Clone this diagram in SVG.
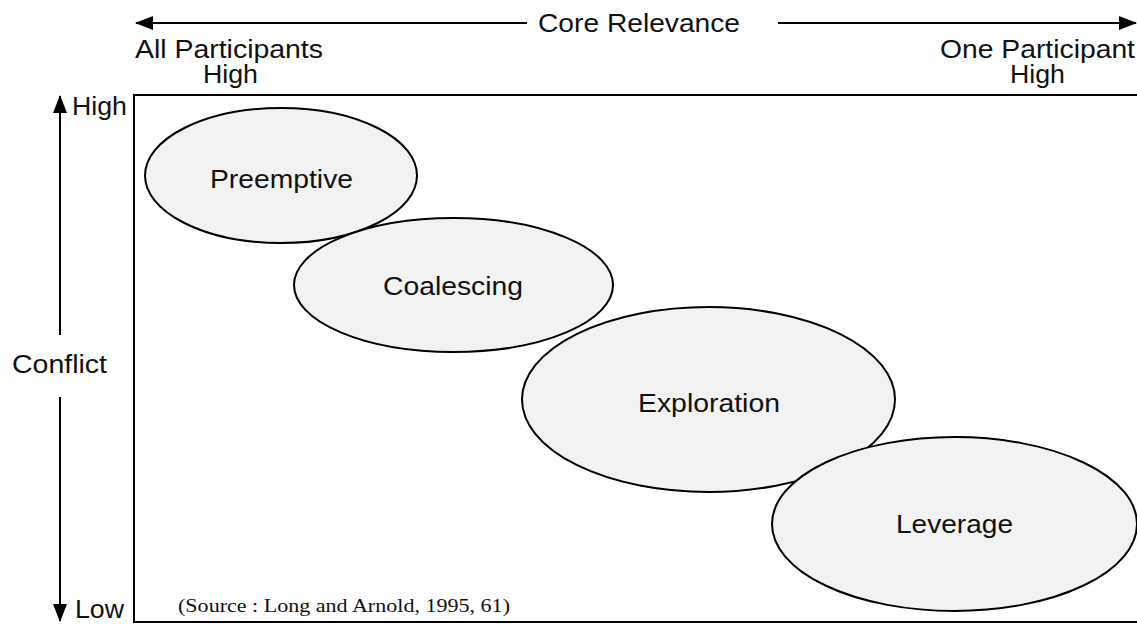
<svg xmlns="http://www.w3.org/2000/svg" width="1137" height="624" viewBox="0 0 1137 624">
<defs>
<marker id="ah" viewBox="0 0 18 14" refX="17" refY="7" markerWidth="18" markerHeight="14" markerUnits="userSpaceOnUse" orient="auto-start-reverse">
<path d="M0,0 L18,7 L0,14 z" fill="#000"/>
</marker>
</defs>
<style>
.t{font-family:"Liberation Sans",Arial,sans-serif;font-size:25px;fill:#111;}
.s{font-family:"Liberation Serif","Times New Roman",serif;font-size:18px;fill:#111;}
.n{fill:#f2f2f2;stroke:#000;stroke-width:2;}
.ax{stroke:#000;stroke-width:2;fill:none;}
</style>
<rect width="1137" height="624" fill="#fff"/>
<g id="axes">
<line class="ax" x1="527" y1="23" x2="136" y2="23" marker-end="url(#ah)"/>
<line class="ax" x1="778" y1="23" x2="1136" y2="23" marker-end="url(#ah)"/>
<line class="ax" x1="60" y1="335" x2="60" y2="96" marker-end="url(#ah)"/>
<line class="ax" x1="60" y1="397" x2="60" y2="621" marker-end="url(#ah)"/>
</g>
<g id="frame">
<path class="ax" d="M1139,95 L134,95 L134,622 L1139,622"/>
</g>
<g id="labels">
<text class="t" x="538" y="32" textLength="202" lengthAdjust="spacingAndGlyphs">Core Relevance</text>
<text class="t" x="135" y="58" textLength="188" lengthAdjust="spacingAndGlyphs">All Participants</text>
<text class="t" x="203" y="83" textLength="55" lengthAdjust="spacingAndGlyphs">High</text>
<text class="t" x="940" y="58" textLength="195" lengthAdjust="spacingAndGlyphs">One Participant</text>
<text class="t" x="1010" y="83" textLength="55" lengthAdjust="spacingAndGlyphs">High</text>
<text class="t" x="72" y="115" textLength="55" lengthAdjust="spacingAndGlyphs">High</text>
<text class="t" x="12" y="373" textLength="95" lengthAdjust="spacingAndGlyphs">Conflict</text>
<text class="t" x="75" y="618" textLength="49" lengthAdjust="spacingAndGlyphs">Low</text>
<text class="s" x="178" y="612" textLength="332" lengthAdjust="spacingAndGlyphs">(Source : Long and Arnold, 1995, 61)</text>
</g>
<g id="preemptive">
<ellipse class="n" cx="281" cy="175.5" rx="136" ry="67.5"/>
<text class="t" x="210" y="188" textLength="143" lengthAdjust="spacingAndGlyphs">Preemptive</text>
</g>
<g id="coalescing">
<ellipse class="n" cx="453.5" cy="285" rx="159.5" ry="67"/>
<text class="t" x="383" y="295" textLength="140" lengthAdjust="spacingAndGlyphs">Coalescing</text>
</g>
<g id="exploration">
<ellipse class="n" cx="708.5" cy="399.5" rx="186.5" ry="92.5"/>
<text class="t" x="638" y="412" textLength="142" lengthAdjust="spacingAndGlyphs">Exploration</text>
</g>
<g id="leverage">
<ellipse class="n" cx="954.5" cy="524" rx="182.5" ry="87"/>
<text class="t" x="896" y="533" textLength="117" lengthAdjust="spacingAndGlyphs">Leverage</text>
</g>
</svg>
